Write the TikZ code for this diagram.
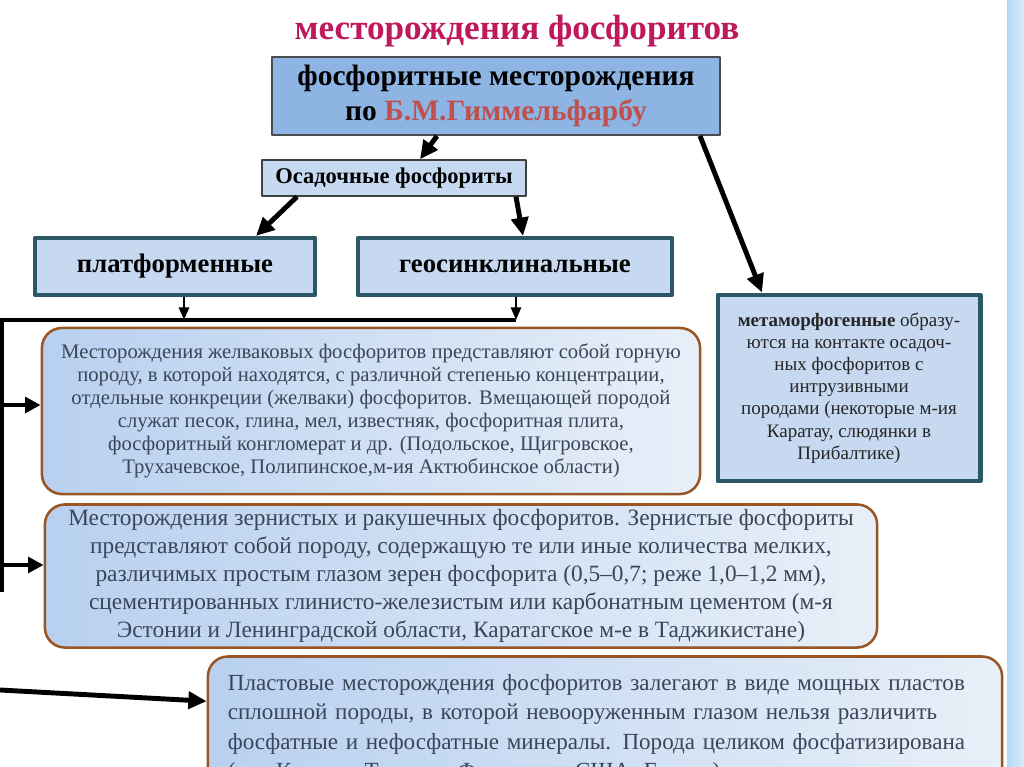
\documentclass[tikz,border=0pt]{standalone}
\usepackage{fontspec}
\setmainfont{Liberation Serif}
\usetikzlibrary{arrows.meta,calc}

\definecolor{titlecol}{HTML}{C0185C}
\definecolor{namecol}{HTML}{C0504D}
\definecolor{midblue}{HTML}{8DB4E2}
\definecolor{paleblue}{HTML}{C6D9F1}
\definecolor{shadeleft}{HTML}{B8D0F0}
\definecolor{shaderight}{HTML}{E8EFF8}
\definecolor{tealedge}{HTML}{2B5766}
\definecolor{brownedge}{HTML}{9A5525}
\definecolor{slatetext}{HTML}{3A4658}
\definecolor{barblue}{HTML}{B3D8F6}

\begin{document}
\begin{tikzpicture}[x=0.025cm, y=-0.025cm, line join=round,
    topbox/.style={draw=black!70, line width=1.3pt, fill=midblue, align=center,
        font=\fontsize{21}{25}\selectfont\bfseries},
    smallbox/.style={draw=black!75, line width=1pt, fill=paleblue,
        font=\fontsize{16}{19}\selectfont\bfseries},
    kindbox/.style={draw=tealedge, line width=3pt, fill=paleblue,
        font=\fontsize{19}{22}\selectfont\bfseries},
    infobox/.style={draw=brownedge, line width=1.8pt, rounded corners=0.5cm,
        left color=shadeleft, right color=shaderight, align=center,
        text=slatetext},
    bigarr/.style={-{Triangle[length=13pt,width=12pt]}, line width=3.5pt},
    sidearr/.style={-{Triangle[length=11pt,width=11pt]}, line width=3.2pt},
    tinyarr/.style={-{Triangle[length=9pt,width=7pt]}, line width=2pt}]

    % page and clip
    \useasboundingbox (0,0) rectangle (1024,767);
    \clip (0,0) rectangle (1024,767);
    \fill[white] (0,0) rectangle (1024,767);
    \shade[left color=barblue, right color=barblue!50] (1007,0) rectangle (1024,767); % side bar

    % title
    \node[text=titlecol, font=\fontsize{25}{30}\selectfont\bfseries] (title) at (517,31) {месторождения фосфоритов};

    % boxes
    \node[topbox, minimum width=11.2cm, minimum height=1.95cm] (gimm) at (496,96)
        {фосфоритные месторождения\\по \textcolor{namecol}{Б.М.Гиммельфарбу}};
    \node[smallbox, minimum width=6.6cm, minimum height=0.9cm] (osad) at (394,178) {Осадочные фосфориты};
    \node[kindbox, minimum width=7cm, minimum height=1.425cm] (plat) at (175,266.5) {платформенные};
    \node[kindbox, minimum width=7.85cm, minimum height=1.425cm] (geo) at (515,266.5) {геосинклинальные};
    \node[kindbox, line width=3.5pt, minimum width=6.55cm, minimum height=4.65cm, align=center,
        font=\fontsize{13.5}{15.8}\selectfont, text=black!85] (meta) at (849,388)
        {\textbf{метаморфогенные} образу-\\ются на контакте осадоч-\\ных фосфоритов с\\интрузивными\\породами (некоторые м-ия\\Каратау, слюдянки в\\Прибалтике)};

    \node[infobox, minimum width=16.45cm, minimum height=4.15cm, font=\fontsize{14.7}{16.3}\selectfont] (zhel) at (371,411)
        {Месторождения желваковых фосфоритов представляют собой горную\\породу, в которой находятся, с различной степенью концентрации,\\отдельные конкреции (желваки) фосфоритов. Вмещающей породой\\служат песок, глина, мел, известняк, фосфоритная плита,\\фосфоритный конгломерат и др. (Подольское, Щигровское,\\Трухачевское, Полипинское,м-ия Актюбинское области)};
    \node[infobox, minimum width=20.8cm, minimum height=3.55cm, font=\fontsize{16.6}{20}\selectfont] (zern) at (461,576)
        {Месторождения зернистых и ракушечных фосфоритов. Зернистые фосфориты\\представляют собой породу, содержащую те или иные количества мелких,\\различимых простым глазом зерен фосфорита (0,5--0,7; реже 1,0--1,2 мм),\\сцементированных глинисто-железистым или карбонатным цементом (м-я\\Эстонии и Ленинградской области, Каратагское м-е в Таджикистане)};
    \node[infobox, align=left, text width=18.85cm, inner xsep=0.5cm, minimum height=3.625cm,
        font=\fontsize{16.4}{21}\selectfont] (plast) at (605,729)
        {Пластовые месторождения фосфоритов залегают в виде мощных пластов\\сплошной породы, в которой невооруженным глазом нельзя различить\\фосфатные и нефосфатные минералы. Порода целиком фосфатизирована\\(м-я Каратау, Тенесси, Флориды в США, Египта)};

    % arrows from the top
    \draw[bigarr] ($(gimm.south)+(-59,0)$) -- ($(osad.north)+(26,0)$);
    \draw[bigarr] ($(gimm.south)+(204,0)$) -- ($(meta.north)+(-87,0)$);
    \draw[bigarr] ($(osad.south)+(-97,0)$) -- ($(plat.north)+(81,0)$);
    \draw[bigarr] ($(osad.south)+(122,0)$) -- ($(geo.north)+(8,0)$);

    % bus on the left
    \coordinate (busR) at (516,320);
    \coordinate (busL) at (2,320);
    \coordinate (busB) at (2,592);
    \coordinate (lowIn) at (0,690);
    \draw[tinyarr] ($(plat.south)+(9,0)$) -- ($(plat.south)+(9,23)$);
    \draw[tinyarr] ($(geo.south)+(1,0)$) -- ($(geo.south)+(1,23)$);
    \draw[line width=3.5pt] (busR) -- (-5,320);
    \draw[line width=3.5pt] (busL) -- (busB);
    \draw[sidearr] (busL |- 0,405) -- (zhel.west |- 0,405);
    \draw[sidearr] (busL |- 0,565) -- (zern.west |- 0,565);
    \draw[bigarr] (lowIn) -- ($(plast.north west)+(0,46)$);

\end{tikzpicture}
\end{document}
